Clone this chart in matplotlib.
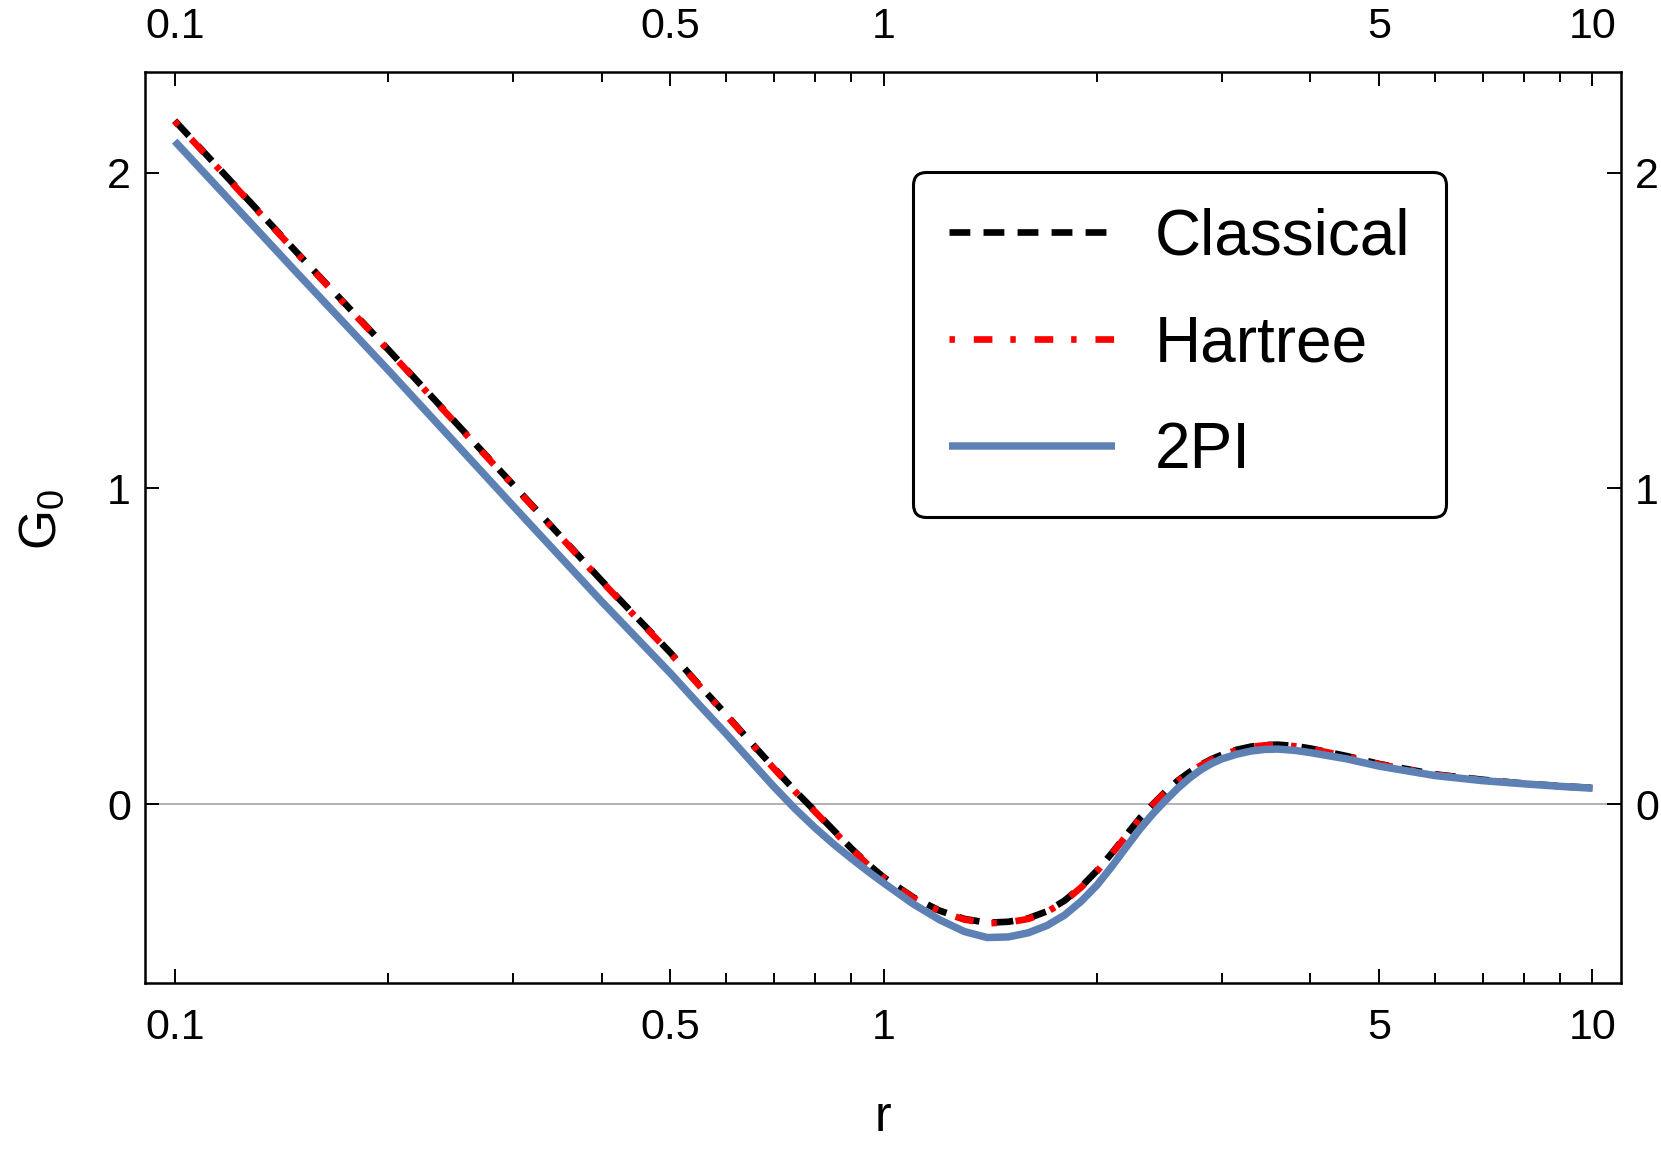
import matplotlib
matplotlib.use("Agg")
import matplotlib.pyplot as plt
from matplotlib.ticker import FixedLocator, FixedFormatter, NullLocator

plt.rcParams['font.family'] = ['Liberation Sans', 'DejaVu Sans']
plt.rcParams['mathtext.fontset'] = 'custom'
plt.rcParams['mathtext.rm'] = 'Liberation Sans'
plt.rcParams['lines.scale_dashes'] = False

# ---- data ----
r = [0.1, 0.15, 0.2, 0.3, 0.4, 0.5, 0.55, 0.6, 0.65, 0.7, 0.75, 0.8, 0.85, 0.9, 0.95,
     1.0, 1.1, 1.2, 1.3, 1.4, 1.5, 1.6, 1.7, 1.8, 1.9, 2.0, 2.1, 2.2, 2.3, 2.4, 2.5,
     2.6, 2.7, 2.8, 2.9, 3.0, 3.15, 3.3, 3.45, 3.6, 3.8, 4.0, 4.5, 5.0, 6.0, 7.0,
     8.0, 9.0, 10.0]

g_classical = [2.165, 1.738, 1.44, 1.012, 0.708, 0.48, 0.376, 0.283, 0.195, 0.115, 0.042,
               -0.022, -0.083, -0.14, -0.19, -0.232, -0.295, -0.338, -0.364, -0.376,
               -0.373, -0.362, -0.34, -0.306, -0.262, -0.211, -0.155, -0.098, -0.044,
               0.0, 0.04, 0.074, 0.101, 0.124, 0.142, 0.156, 0.172, 0.182, 0.187, 0.188,
               0.184, 0.176, 0.152, 0.127, 0.094, 0.077, 0.065, 0.057, 0.051]

g_hartree = [2.163, 1.736, 1.438, 1.010, 0.706, 0.478, 0.374, 0.281, 0.193, 0.113, 0.040,
             -0.024, -0.085, -0.142, -0.192, -0.234, -0.297, -0.340, -0.366, -0.378,
             -0.375, -0.364, -0.342, -0.308, -0.264, -0.213, -0.157, -0.100, -0.046,
             -0.002, 0.038, 0.072, 0.099, 0.122, 0.140, 0.155, 0.171, 0.181, 0.186, 0.187,
             0.183, 0.175, 0.151, 0.126, 0.093, 0.076, 0.064, 0.056, 0.050]

g_2pi = [2.10, 1.674, 1.375, 0.945, 0.642, 0.415, 0.313, 0.222, 0.135, 0.055, -0.015,
         -0.075, -0.127, -0.172, -0.213, -0.25, -0.316, -0.367, -0.404, -0.423,
         -0.421, -0.408, -0.385, -0.352, -0.308, -0.257, -0.197, -0.136, -0.079,
         -0.03, 0.012, 0.05, 0.082, 0.108, 0.128, 0.143, 0.158, 0.168, 0.173, 0.174,
         0.17, 0.163, 0.143, 0.12, 0.09, 0.074, 0.064, 0.056, 0.050]

x_major = [0.1, 0.5, 1, 5, 10]
x_major_labels = ['0.1', '0.5', '1', '5', '10']
x_minor = [0.2, 0.3, 0.4, 0.6, 0.7, 0.8, 0.9, 2, 3, 4, 6, 7, 8, 9]
y_major = [0, 1, 2]
y_major_labels = ['0', '1', '2']

W, H = 1661, 1153
fig = plt.figure(figsize=(W / 100, H / 100), dpi=100)
L, R, T, B = 145, 1621, 72, 983
ax = fig.add_axes([L / W, 1 - B / H, (R - L) / W, (B - T) / H])

ax.set_xscale('log')
ax.set_xlim(0.0908, 10.97)
ax.set_ylim(-0.567, 2.319)

ax.axhline(0, color='#a6a6a6', lw=1.2, zorder=1)
ax.plot(r, g_classical, color='black', lw=4.8, dashes=(15, 9.5), label='Classical', zorder=2)
ax.plot(r, g_hartree, color='#ff0000', lw=4.8, dashes=(3.9, 13.6, 13.4, 12.9), label='Hartree', zorder=3)
ax.plot(r, g_2pi, color='#5E81B5', lw=5.4, label='2PI', zorder=4, solid_capstyle='butt')

ax.xaxis.set_major_locator(FixedLocator(x_major))
ax.xaxis.set_major_formatter(FixedFormatter(x_major_labels))
ax.xaxis.set_minor_locator(FixedLocator(x_minor))
ax.xaxis.set_minor_formatter(FixedFormatter([''] * len(x_minor)))
ax.yaxis.set_major_locator(FixedLocator(y_major))
ax.yaxis.set_major_formatter(FixedFormatter(y_major_labels))
ax.yaxis.set_minor_locator(NullLocator())

ax.tick_params(which='both', direction='in', top=True, right=True,
               labeltop=True, labelright=True, width=1.4, colors='black')
ax.tick_params(axis='x', which='major', length=10, pad=18, labelsize=31)
ax.tick_params(axis='x', which='minor', length=7)
ax.tick_params(axis='y', which='major', length=10, pad=10, labelsize=31)

for s in ax.spines.values():
    s.set_linewidth(1.8)
    s.set_color('black')

ax.set_xlabel('r', fontsize=36)
ax.xaxis.set_label_coords(0.5, -0.148)
ax.xaxis.label.set_va('center')
ax.set_ylabel(r'G$_\mathrm{0}$', fontsize=37)
ax.yaxis.set_label_coords(-0.07, 0.509)
ax.yaxis.label.set_va('center')

leg = ax.legend(loc='upper left', bbox_to_anchor=((913 - L) / (R - L), (B - 172) / (B - T)),
                borderaxespad=0, fontsize=46, handlelength=2.6, handletextpad=0.62,
                labelspacing=0.73, borderpad=0.56, frameon=True, fancybox=True,
                framealpha=1, edgecolor='black')
leg.get_frame().set_linewidth(2.2)

fig.savefig('out.png', dpi=100)
